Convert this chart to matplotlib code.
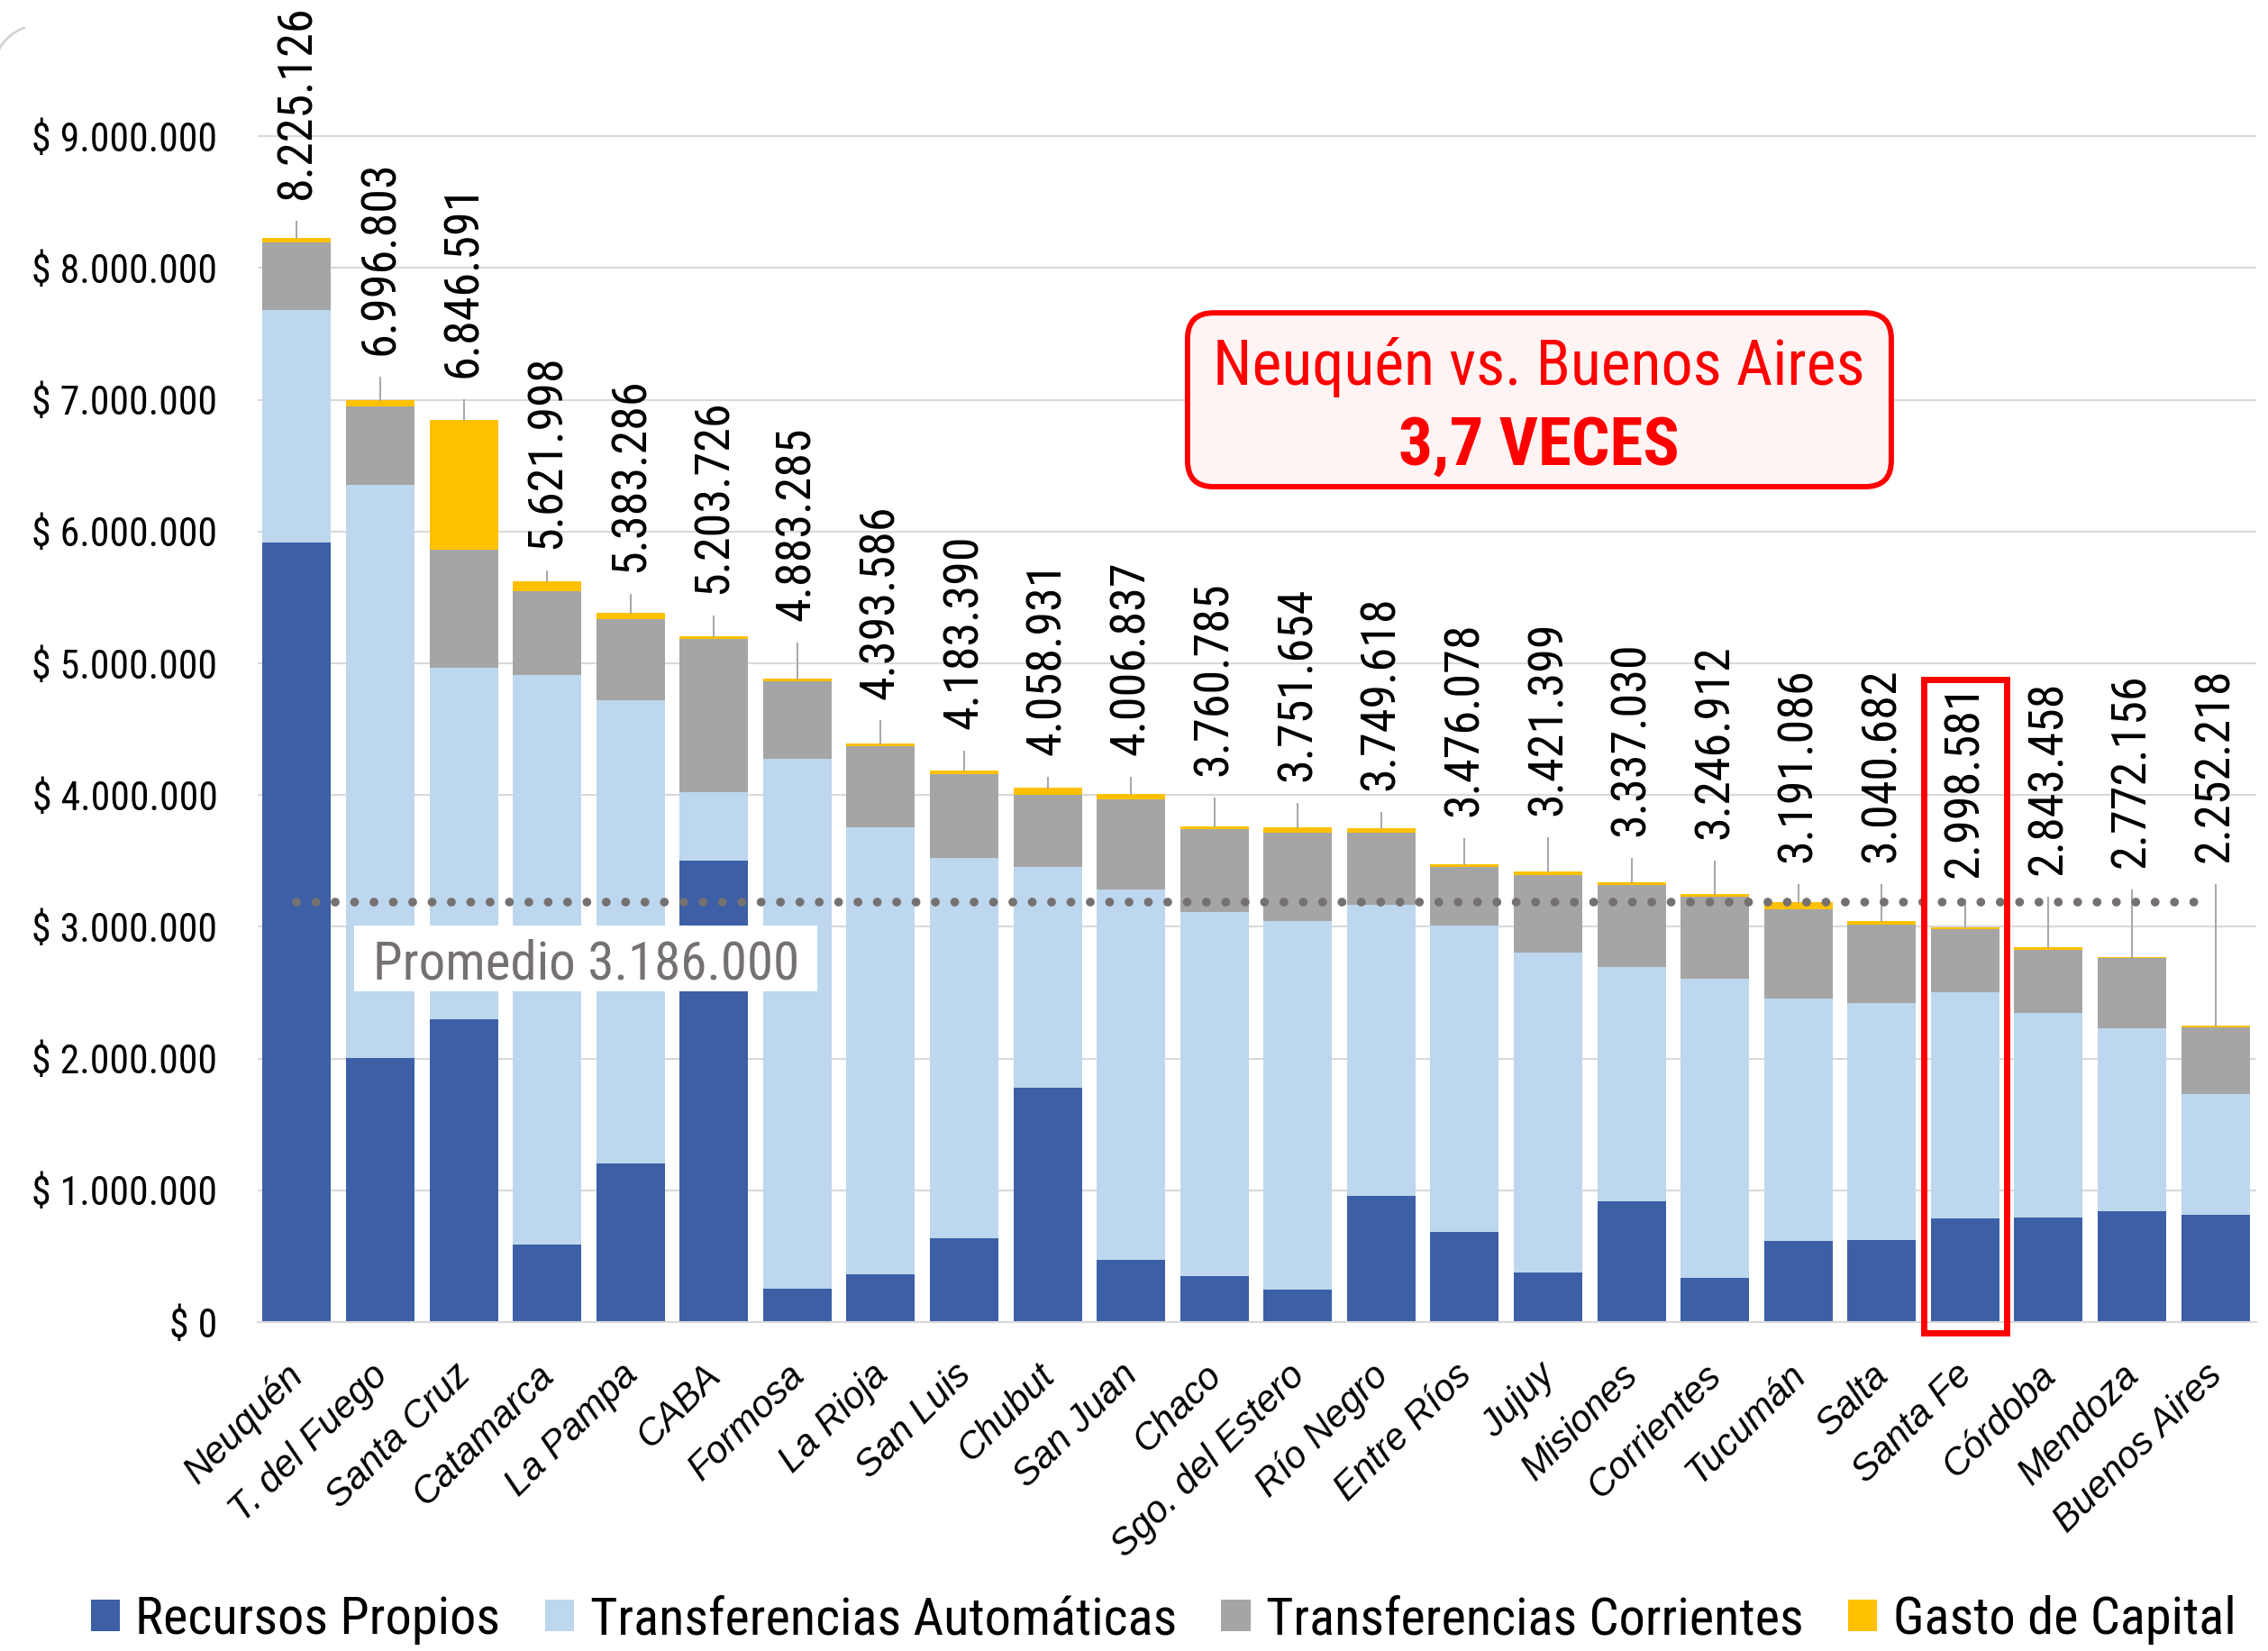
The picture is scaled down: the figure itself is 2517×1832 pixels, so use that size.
import matplotlib

matplotlib.use("Agg")

import matplotlib.pyplot as plt
from matplotlib import font_manager
from matplotlib.patches import Arc, FancyBboxPatch, Patch, Rectangle
from matplotlib.ticker import FuncFormatter
from matplotlib.transforms import ScaledTranslation

INSTALLED = {f.name for f in font_manager.fontManager.ttflist}
NARROW = next(name for name in ["Roboto Condensed", "Liberation Sans Narrow", "Arial Narrow",
                                "Archivo Narrow", "DejaVu Sans"] if name in INSTALLED)
plt.rcParams["font.family"] = [NARROW, "DejaVu Sans"]

PROVINCES = [
    "Neuquén", "T. del Fuego", "Santa Cruz", "Catamarca", "La Pampa", "CABA",
    "Formosa", "La Rioja", "San Luis", "Chubut", "San Juan", "Chaco",
    "Sgo. del Estero", "Río Negro", "Entre Ríos", "Jujuy", "Misiones",
    "Corrientes", "Tucumán", "Salta", "Santa Fe", "Córdoba", "Mendoza",
    "Buenos Aires",
]
TOTALS = [
    8225126, 6996803, 6846591, 5621998, 5383286, 5203726, 4883285, 4393586,
    4183390, 4058931, 4006837, 3760785, 3751654, 3749618, 3476078, 3421399,
    3337030, 3246912, 3191086, 3040682, 2998581, 2843458, 2772156, 2252218,
]
# millones de pesos
RECURSOS_PROPIOS = [
    5.914, 2.004, 2.297, 0.590, 1.201, 3.499, 0.251, 0.360, 0.639, 1.780,
    0.471, 0.349, 0.244, 0.960, 0.684, 0.379, 0.919, 0.338, 0.617, 0.621,
    0.789, 0.797, 0.841, 0.813,
]
TRANSF_AUTOMATICAS = [
    1.767, 4.349, 2.668, 4.323, 3.520, 0.523, 4.023, 3.392, 2.886, 1.675,
    2.813, 2.764, 2.800, 2.206, 2.325, 2.428, 1.779, 2.266, 1.842, 1.802,
    1.713, 1.548, 1.386, 0.915,
]
TRANSF_CORRIENTES = [
    0.515, 0.599, 0.894, 0.634, 0.613, 1.163, 0.586, 0.618, 0.636, 0.545,
    0.685, 0.629, 0.673, 0.551, 0.443, 0.587, 0.621, 0.625, 0.671, 0.594,
    0.483, 0.483, 0.534, 0.507,
]
GASTO_CAPITAL = [
    0.029, 0.045, 0.987, 0.075, 0.049, 0.019, 0.023, 0.024, 0.022, 0.059,
    0.038, 0.019, 0.035, 0.033, 0.024, 0.027, 0.018, 0.018, 0.061, 0.024,
    0.014, 0.015, 0.011, 0.017,
]
PROMEDIO = 3186000
HIGHLIGHT = "Santa Fe"

SERIES = [
    ("Recursos Propios", RECURSOS_PROPIOS, "#3C5FA6"),
    ("Transferencias Automáticas", TRANSF_AUTOMATICAS, "#BDD7EE"),
    ("Transferencias Corrientes", TRANSF_CORRIENTES, "#A5A5A5"),
    ("Gasto de Capital", GASTO_CAPITAL, "#FFC000"),
]

# base de cada etiqueta de total (en millones), como fueron ubicadas a mano
LABEL_BASE = [
    8.52, 7.336, 7.168, 5.871, 5.688, 5.526, 5.322, 4.729, 4.503, 4.304,
    4.304, 4.143, 4.101, 4.038, 3.839, 3.841, 3.684, 3.665, 3.488, 3.488,
    3.370, 3.390, 3.449, 3.488,
]
LEADER_GAP = 0.17


def fmt_miles(value):
    return f"{int(round(value)):,}".replace(",", ".")


fig = plt.figure(figsize=(25.17, 18.32), dpi=100)
ax = fig.add_axes([0.1136, 0.1992, 0.8812, 0.7981])

x = list(range(len(PROVINCES)))
bottom = [0.0] * len(PROVINCES)
handles = []
for name, values, color in SERIES:
    heights = [v * 1e6 for v in values]
    ax.bar(x, heights, width=0.82, bottom=bottom, color=color, zorder=2)
    bottom = [b + h for b, h in zip(bottom, heights)]
    handles.append(Patch(facecolor=color, label=name))

for i, (total, base) in enumerate(zip(TOTALS, LABEL_BASE)):
    top = bottom[i]
    leader_top = (base - LEADER_GAP) * 1e6
    if leader_top > top:
        ax.plot([i, i], [top, leader_top], color="#A6A6A6", linewidth=1.4, zorder=2)
    ax.text(i, base * 1e6, fmt_miles(total), rotation=90, ha="center", va="bottom",
            fontsize=39, color="black", zorder=5, clip_on=False)

ax.plot([0, len(PROVINCES) - 1.07], [PROMEDIO, PROMEDIO], color="#767171",
        linewidth=7, linestyle=(0, (0.01, 2.2)), dash_capstyle="round", zorder=3)
ax.add_patch(Rectangle((0.69, 2.51e6), 5.55, 0.50e6, facecolor="white",
                       edgecolor="none", zorder=4))
ax.text(3.47, 2.606e6, f"Promedio {fmt_miles(PROMEDIO)}", ha="center", va="baseline",
        fontsize=42.5, color="#767171", zorder=5)

hi = PROVINCES.index(HIGHLIGHT)
ax.add_patch(Rectangle((hi - 0.5, -0.085e6), 1.0, 4.965e6, facecolor="none",
                       edgecolor="#FF0000", linewidth=5, zorder=6, clip_on=False))

ax.set_xlim(-0.47, 23.49)
ax.set_ylim(0, 10e6)
ax.set_yticks([i * 1e6 for i in range(10)])
ax.yaxis.set_major_formatter(FuncFormatter(lambda v, _: f"$ {fmt_miles(v)}"))
ax.grid(axis="y", color="#D9D9D9", linewidth=1.5)
ax.set_axisbelow(True)
for side in ["top", "right", "left"]:
    ax.spines[side].set_visible(False)
ax.spines["bottom"].set_color("#D9D9D9")
ax.spines["bottom"].set_linewidth(1.5)
ax.tick_params(axis="y", length=0, pad=32, labelsize=31.5)
ax.tick_params(axis="x", length=0, pad=28)
ax.set_xticks(x)
ax.set_xticklabels(PROVINCES, rotation=45, ha="right", fontsize=30, style="italic",
                   family=["Liberation Sans", "DejaVu Sans"])
shift = ScaledTranslation(0.16, 0, fig.dpi_scale_trans)
for label in ax.get_xticklabels():
    label.set_transform(label.get_transform() + shift)

box = FancyBboxPatch((0.5236, 0.7052), 0.3103, 0.1053, transform=fig.transFigure,
                     boxstyle="round,pad=0,rounding_size=0.0115", mutation_aspect=2517 / 1832,
                     facecolor="#FFF4F4", edgecolor="#FF0000", linewidth=4.3, zorder=10)
fig.add_artist(box)
fig.text(0.6786, 0.7669, "Neuquén vs. Buenos Aires", ha="center", va="baseline",
         fontsize=50.5, color="#FF0000", zorder=11)
fig.text(0.6786, 0.7183, "3,7 VECES", ha="center", va="baseline", fontsize=54,
         fontweight="bold", color="#FF0000", zorder=11)

corner = Arc((45 / 2517, 1 - 80 / 1832), 105 / 2517, 105 / 1832, theta1=104, theta2=160,
             transform=fig.transFigure, color="#D0D0D0", linewidth=1.8)
fig.add_artist(corner)

fig.legend(handles=handles, loc="center", bbox_to_anchor=(0.513, 0.0186), ncol=4,
           frameon=False, fontsize=42, handlelength=0.55, handleheight=0.55,
           handletextpad=0.3, columnspacing=0.85, borderaxespad=0)

fig.savefig("out.png", dpi=100)
